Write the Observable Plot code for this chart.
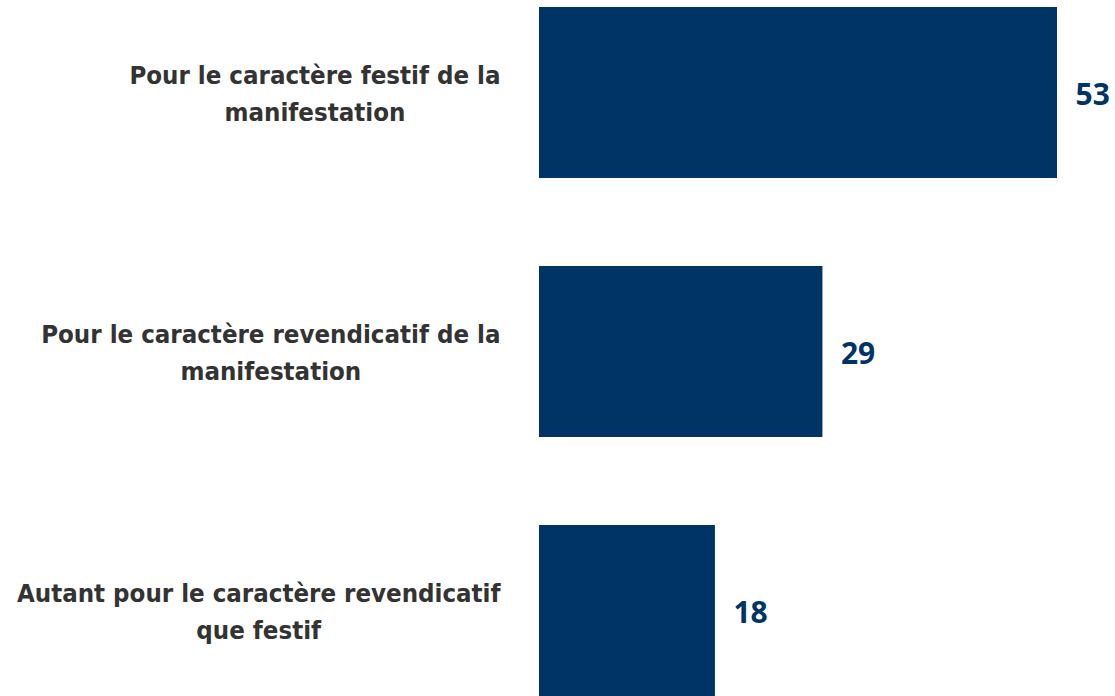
<!DOCTYPE html>
<html>
<head>
<meta charset="utf-8">
<script src="https://cdn.jsdelivr.net/npm/d3@7"></script>
<script src="https://cdn.jsdelivr.net/npm/@observablehq/plot@0.6"></script>
<style>
  html, body { margin: 0; padding: 0; background: #fff; }
  #chart svg { display: block; }
</style>
</head>
<body>
<div id="chart"></div>
<script>
const categories = [
  "Pour le caractère festif de la manifestation",
  "Pour le caractère revendicatif de la manifestation",
  "Autant pour le caractère revendicatif que festif"
];
const labels = [
  "Pour le caractère festif de la\nmanifestation",
  "Pour le caractère revendicatif de la\nmanifestation",
  "Autant pour le caractère revendicatif\nque festif"
];
const values = [53, 29, 18];

const data = categories.map((c, i) => ({category: c, label: labels[i], value: values[i]}));
const navy = "#003466";

const chart = Plot.plot({
  width: 1115,
  height: 696,
  marginLeft: 539,
  marginRight: 58,
  marginTop: 7,
  marginBottom: 0,
  x: {domain: [0, 53], axis: null},
  y: {domain: categories, axis: null, paddingInner: 0.34, paddingOuter: 0},
  marks: [
    Plot.barX(data, {x: "value", y: "category", fill: navy}),
    Plot.text(data, {
      x: "value", y: "category", text: d => String(d.value),
      textAnchor: "start", dx: 18, dy: 2,
      fill: navy, fontSize: 30, fontWeight: "bold",
      fontFamily: "'Open Sans', sans-serif"
    }),
    Plot.text(data, {
      x: () => 0, y: "category", text: "label",
      textAnchor: "end", dx: -39, dy: -2, lineHeight: 1.445,
      fill: "#333333", fontSize: 25.6, fontWeight: "bold",
      fontFamily: "'DejaVu Sans Condensed', 'Open Sans', sans-serif",
      className: "cat-label"
    })
  ]
});
document.getElementById("chart").appendChild(chart);

// center each label's lines relative to each other while keeping the block right-aligned
chart.querySelectorAll(".cat-label text").forEach(t => {
  const spans = Array.from(t.querySelectorAll("tspan"));
  if (!spans.length) return;
  const widths = spans.map(s => s.getComputedTextLength());
  const W = Math.max(...widths);
  t.setAttribute("text-anchor", "middle");
  spans.forEach(s => s.setAttribute("x", -W / 2));
});
</script>
</body>
</html>
